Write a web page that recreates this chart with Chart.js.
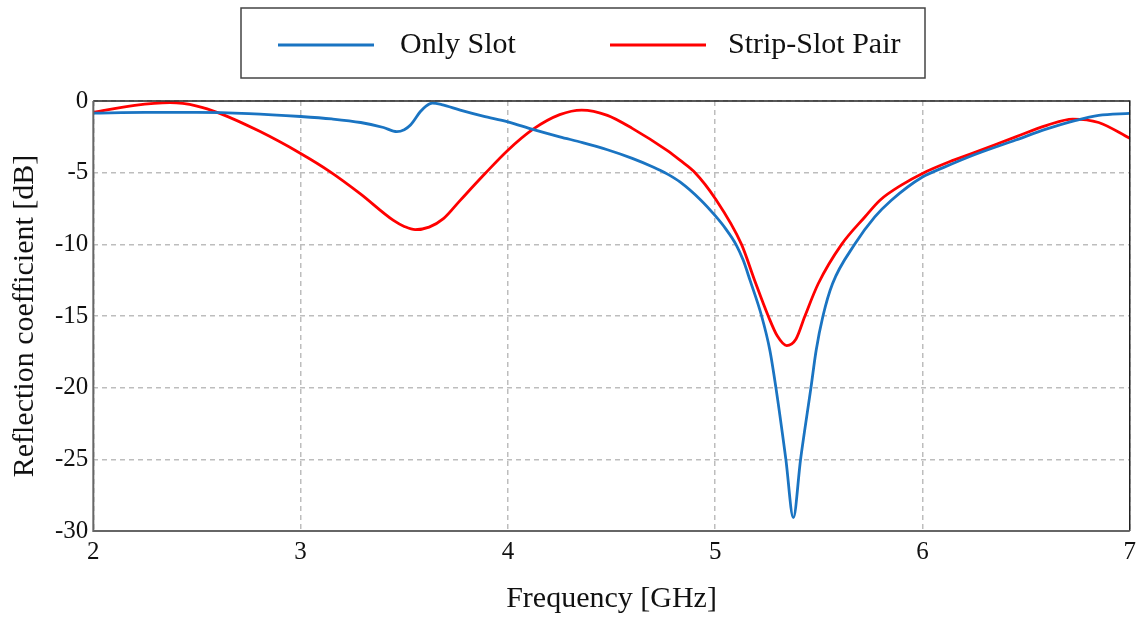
<!DOCTYPE html>
<html>
<head>
<meta charset="utf-8">
<script src="https://cdn.jsdelivr.net/npm/chart.js@4"></script>
<style>
  html, body { margin: 0; padding: 0; background: #fff; }
  #wrap { width: 1139px; height: 617px; }
</style>
</head>
<body>
<div id="wrap"><canvas id="s11_chart"></canvas></div>
<script>
// Frequency [GHz] and reflection coefficient [dB]
var freqOnlySlot = [2.0, 2.25, 2.5, 2.75, 3.0, 3.15, 3.29, 3.4, 3.464, 3.5, 3.53, 3.577, 3.605, 3.635, 3.68, 3.77, 3.88,
    4.0, 4.12, 4.25, 4.36, 4.48, 4.6, 4.7, 4.77, 4.83, 4.93, 5.0, 5.05, 5.1, 5.135, 5.168, 5.224, 5.264, 5.293, 5.341, 5.377,
    5.412, 5.462, 5.487, 5.52, 5.566, 5.673, 5.77, 5.85, 6.0, 6.1, 6.25, 6.45, 6.6, 6.74, 6.85, 7.0];
var onlySlot = [-0.85, -0.8, -0.8, -0.88, -1.08, -1.25, -1.5, -1.85, -2.14, -2.0, -1.68, -0.75, -0.35, -0.15, -0.25, -0.63, -1.05,
    -1.45, -1.98, -2.5, -2.9, -3.4, -4.0, -4.6, -5.1, -5.64, -6.9, -8.0, -8.9, -10.0, -11.1, -12.5, -15.0, -17.4, -20.0, -25.0, -29.07,
    -25.0, -20.0, -17.4, -15.0, -12.75, -10.0, -8.09, -6.92, -5.3, -4.65, -3.75, -2.72, -1.95, -1.35, -1.0, -0.86];

var freqStripSlot = [2.0, 2.2, 2.37, 2.5, 2.61, 2.8, 3.0, 3.143, 3.287, 3.448, 3.5, 3.553, 3.62, 3.689, 3.77, 3.89, 4.0, 4.12, 4.25,
    4.356, 4.48, 4.6, 4.766, 4.83, 4.903, 5.0, 5.127, 5.19, 5.256, 5.3, 5.345, 5.39, 5.433, 5.497, 5.61, 5.722, 5.795,
    5.9, 6.0, 6.13, 6.25, 6.45, 6.6, 6.725, 6.85, 7.0];
var stripSlot = [-0.8, -0.3, -0.12, -0.35, -0.86, -2.1, -3.66, -4.94, -6.46, -8.33, -8.75, -8.98, -8.8, -8.21, -6.93, -5.06, -3.43, -1.98, -0.95,
    -0.63, -1.0, -1.91, -3.43, -4.13, -5.0, -6.8, -10.0, -12.5, -15.0, -16.4, -17.06, -16.6, -15.0, -12.75, -10.0, -8.09, -6.92,
    -5.85, -5.05, -4.24, -3.6, -2.5, -1.7, -1.26, -1.5, -2.6];

var xTicks = [2, 3, 4, 5, 6, 7];
var yTicks = [0, -5, -10, -15, -20, -25, -30];

var serif = "'Liberation Serif', 'Times New Roman', serif";

function points(xs, ys) {
    var out = [];
    for (var i = 0; i < xs.length; i++) {
        out.push({ x: xs[i], y: ys[i] });
    }
    return out;
}

// frame round the plot area (top/right are not drawn by the axes)
var plotFrame = {
    id: 'plotFrame',
    afterDraw: function (chart) {
        var a = chart.chartArea, ctx = chart.ctx;
        ctx.save();
        ctx.lineWidth = 1.5;
        ctx.strokeStyle = '#222';
        ctx.beginPath();
        ctx.moveTo(a.left, a.top);
        ctx.lineTo(a.right, a.top);
        ctx.lineTo(a.right, a.bottom);
        ctx.stroke();
        ctx.lineWidth = 2;
        ctx.strokeStyle = '#666';
        ctx.beginPath();
        ctx.moveTo(a.left, a.top);
        ctx.lineTo(a.left, a.bottom);
        ctx.lineTo(a.right, a.bottom);
        ctx.stroke();
        ctx.restore();
    }
};

// boxed legend above the plot
var boxLegend = {
    id: 'boxLegend',
    afterDraw: function (chart) {
        var ctx = chart.ctx;
        var items = [
            { line: 278, text: 400 },
            { line: 610, text: 728 }
        ];
        ctx.save();
        ctx.fillStyle = '#fff';
        ctx.fillRect(241, 8, 684, 70);
        ctx.lineWidth = 1.5;
        ctx.strokeStyle = '#444';
        ctx.strokeRect(241, 8, 684, 70);
        ctx.font = '30px ' + serif;
        ctx.textBaseline = 'middle';
        chart.data.datasets.forEach(function (ds, i) {
            ctx.strokeStyle = ds.borderColor;
            ctx.lineWidth = 3;
            ctx.beginPath();
            ctx.moveTo(items[i].line, 45);
            ctx.lineTo(items[i].line + 96, 45);
            ctx.stroke();
            ctx.fillStyle = '#111';
            ctx.fillText(ds.label, items[i].text, 45);
        });
        ctx.restore();
    }
};

new Chart(document.getElementById('s11_chart'), {
    type: 'line',
    data: {
        datasets: [
            {
                label: 'Only Slot',
                data: points(freqOnlySlot, onlySlot),
                borderColor: '#1a74c2',
                borderWidth: 2.8,
                pointRadius: 0,
                cubicInterpolationMode: 'monotone'
            },
            {
                label: 'Strip-Slot Pair',
                data: points(freqStripSlot, stripSlot),
                borderColor: '#ff0000',
                borderWidth: 2.8,
                pointRadius: 0,
                cubicInterpolationMode: 'monotone'
            }
        ]
    },
    options: {
        responsive: true,
        maintainAspectRatio: false,
        animation: false,
        layout: { padding: { left: 7, right: 6, top: 101, bottom: 0 } },
        plugins: {
            legend: { display: false },
            tooltip: { enabled: false }
        },
        scales: {
            x: {
                type: 'linear',
                min: 2,
                max: 7,
                afterBuildTicks: function (axis) {
                    axis.ticks = xTicks.map(function (v) { return { value: v }; });
                },
                grid: { color: '#bdbdbd', lineWidth: 1.5, drawTicks: false },
                border: { display: false, dash: [5, 4] },
                ticks: { padding: 3, color: '#111', font: { family: serif, size: 25, lineHeight: 1.44 } },
                title: {
                    display: true,
                    text: 'Frequency [GHz]',
                    color: '#111',
                    font: { family: serif, size: 30 },
                    padding: { top: 8, bottom: 0 }
                }
            },
            y: {
                min: -30,
                max: 0,
                afterBuildTicks: function (axis) {
                    axis.ticks = yTicks.map(function (v) { return { value: v }; });
                },
                grid: { color: '#bdbdbd', lineWidth: 1.5, drawTicks: false },
                border: { display: false, dash: [5, 4] },
                ticks: { padding: 5, color: '#111', font: { family: serif, size: 25 } },
                title: {
                    display: true,
                    text: 'Reflection coefficient [dB]',
                    color: '#111',
                    font: { family: serif, size: 30 },
                    padding: { top: 0, bottom: 7 }
                }
            }
        }
    },
    plugins: [plotFrame, boxLegend]
});
</script>
</body>
</html>
